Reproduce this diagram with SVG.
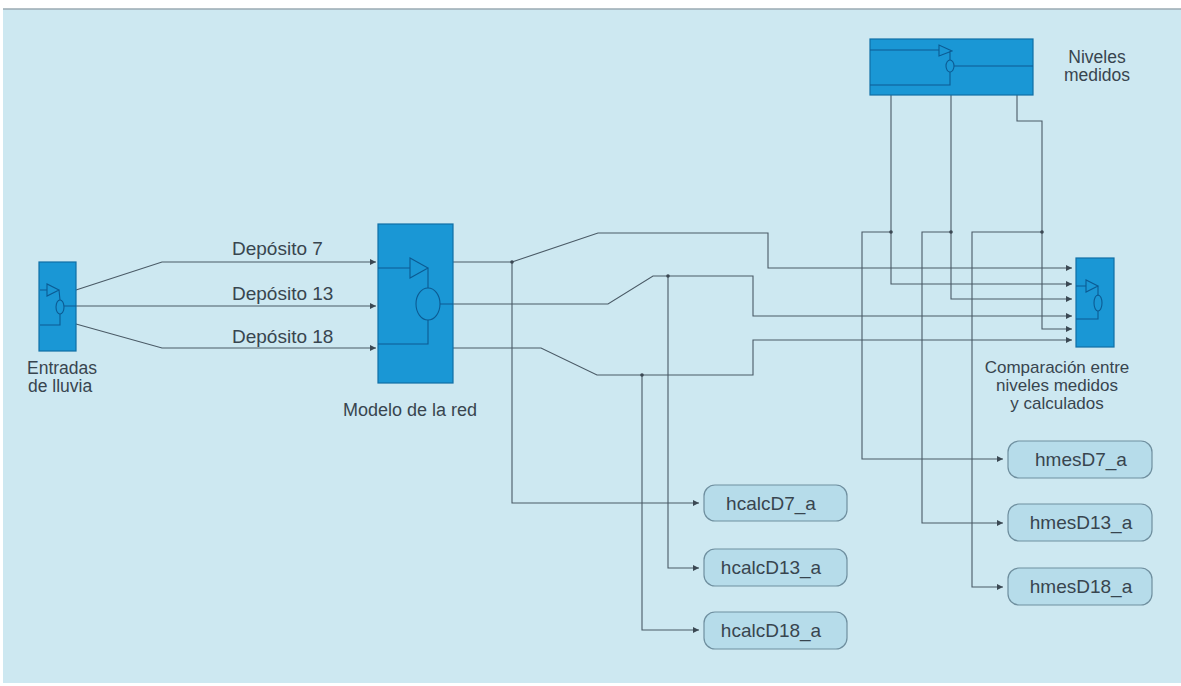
<svg xmlns="http://www.w3.org/2000/svg" width="1181" height="686" viewBox="0 0 1181 686">
<style>
.blk{fill:#1a97d5;stroke:#0f6fa6;stroke-width:1.2}
.ico{fill:none;stroke:#0c5b93;stroke-width:1.1}
.c{fill:none;stroke:#4a5a66;stroke-width:1.1}
.box{fill:#b6dcea;stroke:#6f8f9f;stroke-width:1.2}
.t{font-family:"Liberation Sans",Arial,sans-serif;fill:#38454f}
.dot{fill:#3b4853}
</style>
<defs>
<marker id="ah" viewBox="0 0 10 10" refX="10" refY="5" markerWidth="8" markerHeight="6" markerUnits="userSpaceOnUse" orient="auto">
<path d="M0,0 L10,5 L0,10 z" fill="#3b4853"/>
</marker>
</defs>
<rect x="0" y="0" width="1181" height="686" fill="#ffffff"/>
<rect x="3" y="9" width="1178" height="674" fill="#cde8f1"/>
<line x1="3" y1="9" x2="1181" y2="9" stroke="#9aaab2" stroke-width="1.5"/>

<g id="connectors">
<path class="c" d="M76,290 L162,262 L376,262" marker-end="url(#ah)"/>
<path class="c" d="M76,306 L376,306" marker-end="url(#ah)"/>
<path class="c" d="M76,324 L162,348 L376,348" marker-end="url(#ah)"/>
<path class="c" d="M453,262 L512,262 L598,233 L768,233 L768,268 L1072,268" marker-end="url(#ah)"/>
<path class="c" d="M512,262 L512,503 L699,503" marker-end="url(#ah)"/>
<path class="c" d="M453,304 L608,304 L653,276 L753,276 L753,316 L1072,316" marker-end="url(#ah)"/>
<path class="c" d="M668,276 L668,568 L699,568" marker-end="url(#ah)"/>
<path class="c" d="M453,348 L541,348 L597,375 L753,375 L753,340 L1072,340" marker-end="url(#ah)"/>
<path class="c" d="M642,375 L642,630 L699,630" marker-end="url(#ah)"/>
<path class="c" d="M891,95 L891,284 L1072,284" marker-end="url(#ah)"/>
<path class="c" d="M891,232 L862,232 L862,459 L1003,459" marker-end="url(#ah)"/>
<path class="c" d="M951,95 L951,299 L1072,299" marker-end="url(#ah)"/>
<path class="c" d="M951,232 L922,232 L922,523 L1003,523" marker-end="url(#ah)"/>
<path class="c" d="M1017,95 L1017,121 L1042,121 L1042,329 L1072,329" marker-end="url(#ah)"/>
<path class="c" d="M1042,232 L972,232 L972,587 L1003,587" marker-end="url(#ah)"/>
<circle class="dot" cx="512" cy="262" r="1.8"/>
<circle class="dot" cx="668" cy="276" r="1.8"/>
<circle class="dot" cx="642" cy="375" r="1.8"/>
<circle class="dot" cx="891" cy="232" r="1.8"/>
<circle class="dot" cx="951" cy="232" r="1.8"/>
<circle class="dot" cx="1042" cy="232" r="1.8"/>
<text class="t" x="232" y="255" font-size="19">Depósito 7</text>
<text class="t" x="232" y="300" font-size="19">Depósito 13</text>
<text class="t" x="232" y="343" font-size="19">Depósito 18</text>
</g>

<g id="entradas">
<rect class="blk" x="39" y="262" width="37" height="89"/>
<path class="ico" d="M40,290 L47,290 M47,284 L47,296 L59,290 Z M59,290 L60,300 M40,325 L60,325 L60,314 M64,306 L76,306"/>
<ellipse class="ico" cx="60" cy="307" rx="4" ry="7"/>
<text class="t" x="27" y="374" font-size="17.5">Entradas</text>
<text class="t" x="28" y="392" font-size="17.5">de lluvia</text>
</g>

<g id="modelo">
<rect class="blk" x="378" y="224" width="75" height="159"/>
<path class="ico" d="M378,268 L410,268 M410,258 L410,278 L428,268 Z M428,268 L428,288 M428,320 L428,344 L378,344 M440,304 L453,304"/>
<ellipse class="ico" cx="428" cy="304" rx="12" ry="16"/>
<text class="t" x="410" y="416" font-size="18" text-anchor="middle">Modelo de la red</text>
</g>

<g id="niveles">
<rect class="blk" x="870" y="39" width="163" height="56"/>
<path class="ico" d="M870,50 L939,50 M939,45 L939,56 L952,51 Z M950,51 L950,60 M870,85 L950,85 L950,72 M954,66 L1033,66"/>
<ellipse class="ico" cx="950" cy="66" rx="4" ry="6"/>
<text class="t" x="1097" y="63" font-size="17.5" text-anchor="middle">Niveles</text>
<text class="t" x="1097" y="81" font-size="17.5" text-anchor="middle">medidos</text>
</g>

<g id="comparacion">
<rect class="blk" x="1076" y="258" width="38" height="89"/>
<path class="ico" d="M1076,286 L1086,286 M1086,280 L1086,292 L1098,286 Z M1098,286 L1098,296 M1076,319 L1098,319 L1098,311"/>
<ellipse class="ico" cx="1098" cy="303" rx="4" ry="8"/>
<text class="t" x="1057" y="373" font-size="17" text-anchor="middle">Comparación entre</text>
<text class="t" x="1057" y="391" font-size="17" text-anchor="middle">niveles medidos</text>
<text class="t" x="1057" y="409" font-size="17" text-anchor="middle">y calculados</text>
</g>

<g id="hcalcD7">
<rect class="box" x="704" y="485" width="143" height="36" rx="11"/>
<text class="t" x="771" y="510" font-size="19" text-anchor="middle">hcalcD7_a</text>
</g>
<g id="hcalcD13">
<rect class="box" x="704" y="549" width="143" height="37" rx="11"/>
<text class="t" x="771" y="574" font-size="19" text-anchor="middle">hcalcD13_a</text>
</g>
<g id="hcalcD18">
<rect class="box" x="704" y="612" width="143" height="37" rx="11"/>
<text class="t" x="771" y="637" font-size="19" text-anchor="middle">hcalcD18_a</text>
</g>
<g id="hmesD7">
<rect class="box" x="1008" y="441" width="144" height="37" rx="11"/>
<text class="t" x="1081" y="466" font-size="19" text-anchor="middle">hmesD7_a</text>
</g>
<g id="hmesD13">
<rect class="box" x="1008" y="504" width="144" height="37" rx="11"/>
<text class="t" x="1081" y="529" font-size="19" text-anchor="middle">hmesD13_a</text>
</g>
<g id="hmesD18">
<rect class="box" x="1008" y="568" width="144" height="37" rx="11"/>
<text class="t" x="1081" y="593" font-size="19" text-anchor="middle">hmesD18_a</text>
</g>
</svg>
